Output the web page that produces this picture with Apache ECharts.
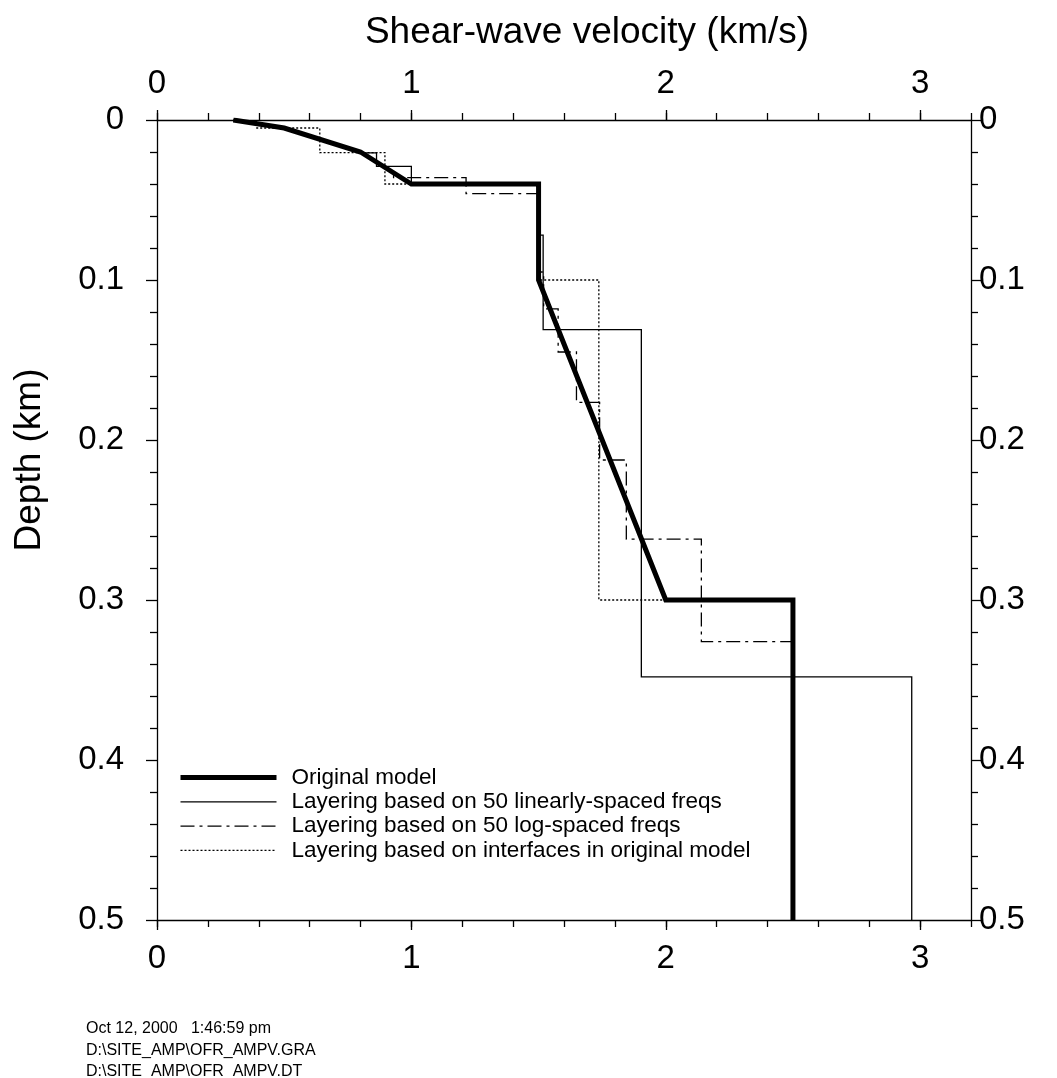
<!DOCTYPE html>
<html>
<head>
<meta charset="utf-8">
<script src="https://cdn.jsdelivr.net/npm/echarts@6/dist/echarts.min.js"></script>
<style>html,body{margin:0;padding:0;background:#fff;}#c{width:1057px;height:1078px;}</style>
</head>
<body>
<div id="c"></div>
<script>
// ---- data (velocity km/s, depth km) ----
const velTickLabels = [0, 1, 2, 3];
const depthTickLabels = [0, 0.1, 0.2, 0.3, 0.4, 0.5];

const originalVel   = [0.30, 0.50, 0.80, 1.00, 1.50, 1.50, 2.00, 2.50, 2.50];
const originalDepth = [0.000, 0.005, 0.020, 0.040, 0.040, 0.100, 0.300, 0.300, 0.500];

const linearVel   = [0.30, 0.50, 0.80, 0.863, 0.863, 1.00, 1.00, 1.50, 1.50, 1.518, 1.518, 1.904, 1.904, 2.967, 2.967];
const linearDepth = [0.000, 0.005, 0.0206, 0.0206, 0.029, 0.029, 0.040, 0.040, 0.072, 0.072, 0.131, 0.131, 0.348, 0.348, 0.500];

const logVel   = [0.30, 0.50, 0.80, 0.93, 0.93, 1.215, 1.215, 1.50, 1.50, 1.52, 1.52, 1.577, 1.577, 1.649, 1.649, 1.74, 1.74, 1.845, 1.845, 2.14, 2.14, 2.50, 2.50];
const logDepth = [0.000, 0.005, 0.020, 0.033, 0.036, 0.036, 0.046, 0.046, 0.095, 0.095, 0.118, 0.118, 0.145, 0.145, 0.1765, 0.1765, 0.2125, 0.2125, 0.262, 0.262, 0.326, 0.326, 0.500];

const ifaceVel   = [0.39, 0.39, 0.64, 0.64, 0.896, 0.896, 1.50, 1.50, 1.737, 1.737, 2.50, 2.50];
const ifaceDepth = [0.000, 0.005, 0.005, 0.0204, 0.0204, 0.040, 0.040, 0.100, 0.100, 0.300, 0.300, 0.500];

const names = [
  'Original model',
  'Layering based on 50 linearly-spaced freqs',
  'Layering based on 50 log-spaced freqs',
  'Layering based on interfaces in original model'
];

const zip = (a, b) => a.map((v, i) => [v, b[i]]);

const FONT = "'Liberation Sans', Arial, Helvetica, sans-serif";
const chart = echarts.init(document.getElementById('c'), null, {renderer: 'canvas'});

const majorX = (pos) => ({
  type: 'value', position: pos, min: 0, max: 3.2, interval: 1,
  axisLine: {show: true, onZero: false, lineStyle: {color: '#000', width: 1.3}},
  axisTick: {show: true, inside: false, length: 10, lineStyle: {color: '#000', width: 1.3}},
  axisLabel: {show: true, margin: pos === 'top' ? 20 : 22, color: '#000', fontSize: 33, fontFamily: FONT,
    showMaxLabel: false, formatter: v => (velTickLabels.indexOf(v) >= 0 ? String(v) : '')},
  splitLine: {show: false}
});
const minorX = (pos) => ({
  type: 'value', position: pos, min: 0, max: 3.2, interval: 0.2,
  axisLine: {show: false, onZero: false},
  axisTick: {show: true, inside: false, length: 7, lineStyle: {color: '#000', width: 1.3}},
  axisLabel: {show: false},
  splitLine: {show: false}
});
const yAx = (pos) => ({
  type: 'value', position: pos, min: 0, max: 0.5, interval: 0.1, inverse: true,
  axisLine: {show: true, onZero: false, lineStyle: {color: '#000', width: 1.3}},
  axisTick: {show: true, inside: false, length: 11, lineStyle: {color: '#000', width: 1.3}},
  minorTick: {show: true, splitNumber: 5, length: 7, lineStyle: {color: '#000', width: 1.3}},
  axisLabel: {show: true, margin: pos === 'left' ? 33 : 8, color: '#000', fontSize: 33, fontFamily: FONT,
    formatter: v => {
      const m = depthTickLabels.find(t => Math.abs(t - v) < 1e-9);
      return m === undefined ? '' : String(m);
    }},
  splitLine: {show: false}
});

const thin = 1.3;
const dashDot = [14, 5, 3, 5];
const dots = [2, 2];
chart.setOption({
  animation: false,
  backgroundColor: '#fff',
  grid: {left: 157, right: 86, top: 120, bottom: 158, containLabel: false},
  xAxis: [majorX('bottom'), minorX('bottom'), majorX('top'), minorX('top')],
  yAxis: [yAx('left'), yAx('right')],
  legend: {
    data: [
      {name: names[0], lineStyle: {width: 5, type: 'solid', color: '#000'}},
      {name: names[1], lineStyle: {width: thin, type: 'solid', color: '#000'}},
      {name: names[2], lineStyle: {width: thin, type: dashDot, color: '#000'}},
      {name: names[3], lineStyle: {width: thin, type: dots, color: '#000'}}
    ],
    orient: 'vertical',
    left: 178, top: 766, padding: 0,
    itemWidth: 96, itemHeight: 14, itemGap: 1.3,
    itemStyle: {opacity: 0, color: 'rgba(0,0,0,0)', borderWidth: 0},
    textStyle: {fontSize: 22.5, fontFamily: FONT, color: '#000', lineHeight: 22, padding: [0, 0, 0, 10]},
    selectedMode: false
  },
  series: [
    {name: names[1], type: 'line', data: zip(linearVel, linearDepth), symbol: 'none', xAxisIndex: 0, yAxisIndex: 0,
     itemStyle: {color: '#000'}, lineStyle: {color: '#000', width: thin, type: 'solid', join: 'miter'}},
    {name: names[2], type: 'line', data: zip(logVel, logDepth), symbol: 'none', xAxisIndex: 0, yAxisIndex: 0,
     itemStyle: {color: '#000'}, lineStyle: {color: '#000', width: thin, type: dashDot, join: 'miter'}},
    {name: names[3], type: 'line', data: zip(ifaceVel, ifaceDepth), symbol: 'none', xAxisIndex: 0, yAxisIndex: 0,
     itemStyle: {color: '#000'}, lineStyle: {color: '#000', width: thin, type: dots, join: 'miter'}},
    {name: names[0], type: 'line', data: zip(originalVel, originalDepth), symbol: 'none', xAxisIndex: 0, yAxisIndex: 0,
     itemStyle: {color: '#000'}, lineStyle: {color: '#000', width: 5, type: 'solid', join: 'miter'}}
  ],
  graphic: [
    {type: 'text', x: 587, y: 33, style: {text: 'Shear-wave velocity (km/s)', font: '37px ' + FONT, fill: '#000', textAlign: 'center', textVerticalAlign: 'middle'}},
    {type: 'text', x: 30, y: 460, rotation: Math.PI / 2, style: {text: 'Depth (km)', font: '37px ' + FONT, fill: '#000', textAlign: 'center', textVerticalAlign: 'middle'}},
    {type: 'text', x: 86, y: 1029, style: {text: 'Oct 12, 2000   1:46:59 pm', font: '16px ' + FONT, fill: '#000', textAlign: 'left', textVerticalAlign: 'middle'}},
    {type: 'text', x: 86, y: 1050.5, style: {text: 'D:\\SITE_AMP\\OFR_AMPV.GRA', font: '16px ' + FONT, fill: '#000', textAlign: 'left', textVerticalAlign: 'middle'}},
    {type: 'text', x: 86, y: 1072, style: {text: 'D:\\SITE_AMP\\OFR_AMPV.DT', font: '16px ' + FONT, fill: '#000', textAlign: 'left', textVerticalAlign: 'middle'}}
  ]
});
</script>
</body>
</html>
